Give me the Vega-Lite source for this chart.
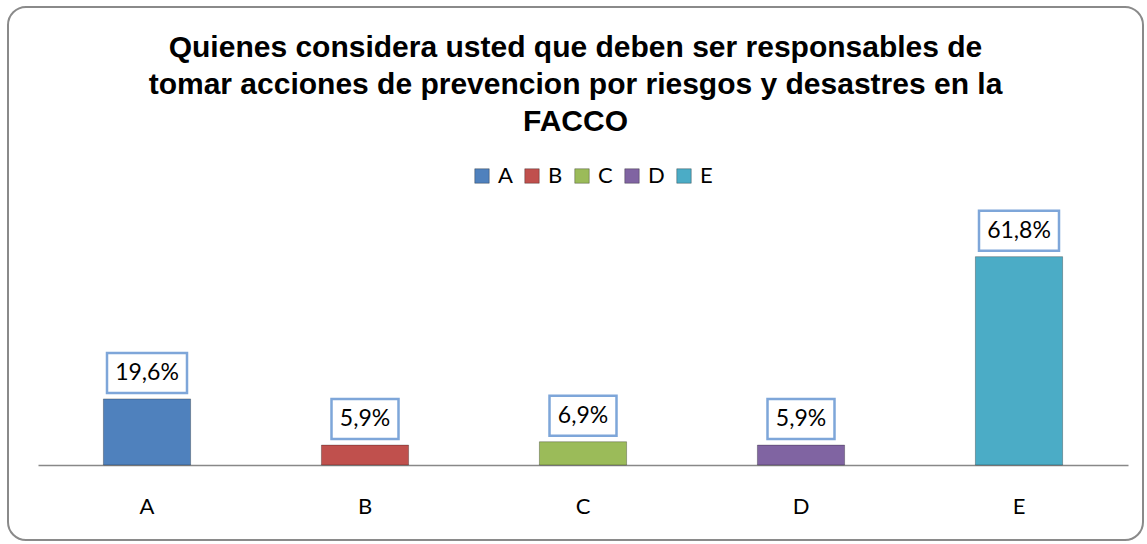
{
  "$schema": "https://vega.github.io/schema/vega-lite/v6.json",
  "width": 1135,
  "height": 533,
  "autosize": {"type": "none"},
  "padding": {"left": 8, "top": 7, "right": 4, "bottom": 4},
  "background": "white",
  "config": {
    "font": "Lato",
    "view": {"stroke": "#8a8a8a", "strokeWidth": 2, "cornerRadius": 18, "fill": "white"},
    "title": {"font": "Liberation Sans", "fontWeight": "bold", "fontSize": 30, "lineHeight": 37, "color": "black", "anchor": "middle", "offset": -130}
  },
  "title": {"text": ["Quienes considera usted que deben ser responsables de", "tomar acciones de prevencion por riesgos y desastres en la", "FACCO"]},
  "data": {"values": [
    {"cat": "A", "value": 19.6, "label": "19,6%"},
    {"cat": "B", "value": 5.9, "label": "5,9%"},
    {"cat": "C", "value": 6.9, "label": "6,9%"},
    {"cat": "D", "value": 5.9, "label": "5,9%"},
    {"cat": "E", "value": 61.8, "label": "61,8%"}
  ]},
  "encoding": {
    "x": {"field": "cat", "type": "nominal", "sort": ["A", "B", "C", "D", "E"],
      "scale": {"range": [30, 1120], "paddingInner": 0.6, "paddingOuter": 0.3},
      "axis": {"title": null, "orient": "bottom", "offset": -75, "domainColor": "#888888", "domainWidth": 1.5, "ticks": false, "labelAngle": 0, "labelFont": "Lato", "labelFontSize": 22, "labelColor": "black", "labelPadding": 31}},
    "y": {"field": "value", "type": "quantitative", "scale": {"domain": [0, 70], "range": [458, 222], "nice": false}, "axis": null}
  },
  "layer": [
    {
      "mark": {"type": "bar", "stroke": "#000000", "strokeOpacity": 0.28, "strokeWidth": 1},
      "encoding": {
        "color": {"field": "cat", "type": "nominal",
          "scale": {"domain": ["A", "B", "C", "D", "E"], "range": ["#4F81BD", "#C0504D", "#9BBB59", "#8064A2", "#4BACC6"]},
          "legend": {"title": null, "orient": "none", "legendX": 463, "legendY": 158, "direction": "horizontal", "columns": 5, "symbolType": "square", "symbolSize": 210, "symbolStrokeWidth": 1, "symbolStrokeColor": "rgba(0,0,0,0.3)", "labelFont": "Lato", "labelFontSize": 22, "labelColor": "black", "labelOffset": 5, "columnPadding": 8, "padding": 0}}
      }
    },
    {
      "transform": [{"filter": "length(datum.label) > 4"}],
      "mark": {"type": "bar", "width": 80, "fill": "white", "stroke": "#7EA6D9", "strokeWidth": 2.5, "yOffset": -46, "y2Offset": -6},
      "encoding": {"y2": {"field": "value"}}
    },
    {
      "transform": [{"filter": "length(datum.label) <= 4"}],
      "mark": {"type": "bar", "width": 67, "fill": "white", "stroke": "#7EA6D9", "strokeWidth": 2.5, "yOffset": -46, "y2Offset": -6},
      "encoding": {"y2": {"field": "value"}}
    },
    {
      "mark": {"type": "text", "font": "Lato", "fontSize": 23, "color": "black", "baseline": "middle", "align": "center", "dy": -26},
      "encoding": {"text": {"field": "label"}}
    }
  ]
}
